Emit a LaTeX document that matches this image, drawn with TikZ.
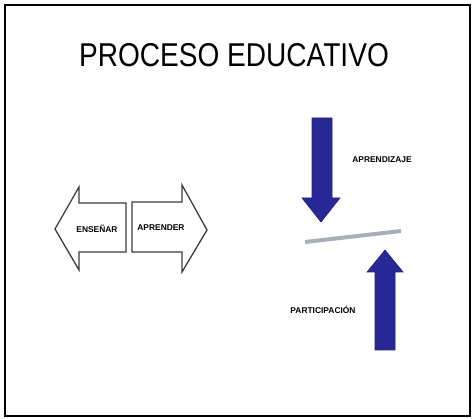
\documentclass[tikz,border=0pt]{standalone}
\usepackage{fontspec}
\setmainfont{Liberation Sans}
\definecolor{navy}{RGB}{40,40,150}
\definecolor{barcol}{RGB}{168,174,186}
\definecolor{outl}{RGB}{60,60,60}
\begin{document}
\begin{tikzpicture}[x=1pt,y=-1pt,
  outarrow/.style={draw=outl,line width=1.3pt,fill=white,line join=miter},
  bluearrow/.style={fill=navy,draw=navy!80!black,line width=0.6pt},
  tiny/.style={font=\fontsize{8.4}{8.4}\selectfont\bfseries,inner sep=0pt,text=black},
  title/.style={font=\fontsize{33}{33}\selectfont,inner sep=0pt,anchor=base,xscale=0.85}]
\useasboundingbox (0,0) rectangle (474,419);
\fill[white] (0,0) rectangle (474,419);
\draw[line width=1.6pt,black] (5,5) rectangle (470,416);
\node[title] (t) at (234,67) {PROCESO EDUCATIVO};
% left outline arrow
\draw[outarrow] (126,203) -- (79,203) -- (79,187) -- (55,229) -- (79,270) -- (79,252) -- (126,252) -- cycle;
% right outline arrow
\draw[outarrow] (132,202) -- (182,202) -- (182,185) -- (207,230) -- (182,272) -- (182,252) -- (132,252) -- cycle;
\node[tiny] (ens) at (97,229) {ENSEÑAR};
\node[tiny] (apr) at (161,228) {APRENDER};
% blue arrows
\fill[bluearrow] (312,118) -- (332,118) -- (332,198) -- (340,198) -- (321,222) -- (302,198) -- (312,198) -- cycle;
\fill[bluearrow] (375,350) -- (395,350) -- (395,272) -- (403,272) -- (385,250) -- (367,272) -- (375,272) -- cycle;
\coordinate (b1) at (305,242);
\coordinate (b2) at (401,231);
\draw[barcol,line width=4pt] (b1) -- (b2);
\node[tiny] (apz) at (382,160) {APRENDIZAJE};
\node[tiny] (par) at (323,310) {PARTICIPACIÓN};
\end{tikzpicture}
\end{document}
